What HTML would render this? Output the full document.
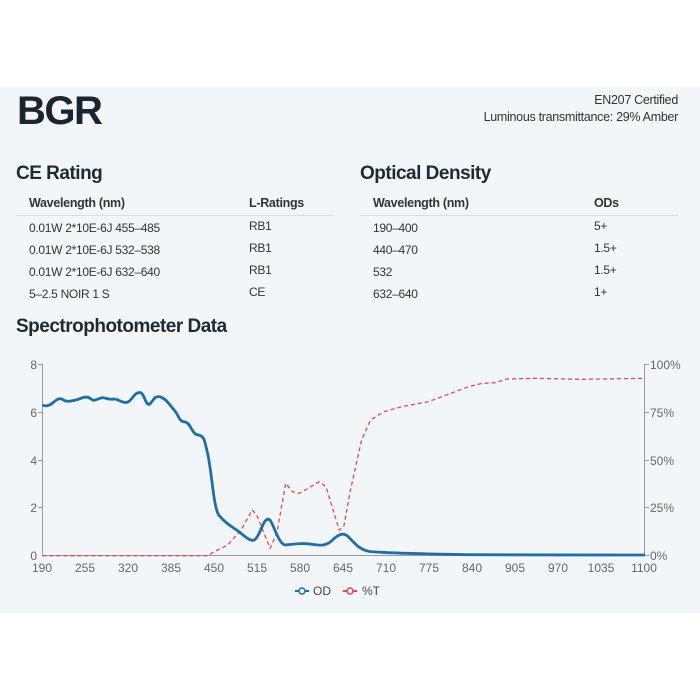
<!DOCTYPE html>
<html><head><meta charset="utf-8"><style>
*{margin:0;padding:0}
body{width:700px;height:700px;background:#fff;position:relative;overflow:hidden;font-family:"Liberation Sans",sans-serif;color:#222}
#panel{position:absolute;left:0;top:87px;width:700px;height:526px;background:#f3f6f9}
.t{position:absolute;white-space:nowrap}
.h2{font-size:19px;font-weight:bold;color:#1e2a33;letter-spacing:-0.5px}
.th{font-size:12.5px;font-weight:bold;color:#333;letter-spacing:-0.3px}
.td{font-size:12px;color:#333;letter-spacing:-0.3px}
.line{position:absolute;height:1px;background:#d8dde2}
</style></head><body>
<div id="panel"></div>
<div class="t" style="left:17px;top:89px;font-size:40px;font-weight:bold;color:#1a2530;letter-spacing:-1.5px">BGR</div>
<div class="t" style="right:22px;top:92px;font-size:12.5px;color:#333;text-align:right;line-height:17px;letter-spacing:-0.3px">EN207 Certified<br>Luminous transmittance: 29% Amber</div>
<div class="t h2" style="left:16px;top:163px">CE Rating</div>
<div class="t h2" style="left:360px;top:163px">Optical Density</div>
<div class="t th" style="left:29px;top:196px">Wavelength (nm)</div>
<div class="t th" style="left:249px;top:196px">L-Ratings</div>
<div class="t th" style="left:373px;top:196px">Wavelength (nm)</div>
<div class="t th" style="left:594px;top:196px">ODs</div>
<div class="line" style="left:16px;top:215px;width:317px"></div>
<div class="line" style="left:360px;top:215px;width:318px"></div>
<div class="t td" style="left:29px;top:221px">0.01W 2*10E-6J 455–485</div>
<div class="t td" style="left:29px;top:243px">0.01W 2*10E-6J 532–538</div>
<div class="t td" style="left:29px;top:265px">0.01W 2*10E-6J 632–640</div>
<div class="t td" style="left:29px;top:287px">5–2.5 NOIR 1 S</div>
<div class="t td" style="left:249px;top:219px">RB1</div>
<div class="t td" style="left:249px;top:241px">RB1</div>
<div class="t td" style="left:249px;top:263px">RB1</div>
<div class="t td" style="left:249px;top:285px">CE</div>
<div class="t td" style="left:373px;top:221px">190–400</div>
<div class="t td" style="left:373px;top:243px">440–470</div>
<div class="t td" style="left:373px;top:265px">532</div>
<div class="t td" style="left:373px;top:287px">632–640</div>
<div class="t td" style="left:594px;top:219px">5+</div>
<div class="t td" style="left:594px;top:241px">1.5+</div>
<div class="t td" style="left:594px;top:263px">1.5+</div>
<div class="t td" style="left:594px;top:285px">1+</div>
<div class="t h2" style="left:16px;top:316px">Spectrophotometer Data</div>
<svg width="700" height="700" style="position:absolute;left:0;top:0" font-family="Liberation Sans, sans-serif">
<g stroke="#999" stroke-width="1" fill="none">
<line x1="42.5" y1="364" x2="42.5" y2="555"/>
<line x1="644.5" y1="364" x2="644.5" y2="555"/>
<line x1="42" y1="555.5" x2="645" y2="555.5"/>
<line x1="38" y1="364.5" x2="42" y2="364.5"/><line x1="38" y1="412.5" x2="42" y2="412.5"/><line x1="38" y1="460.5" x2="42" y2="460.5"/><line x1="38" y1="507.5" x2="42" y2="507.5"/>
<line x1="645" y1="364.5" x2="649" y2="364.5"/><line x1="645" y1="412.5" x2="649" y2="412.5"/><line x1="645" y1="460.5" x2="649" y2="460.5"/><line x1="645" y1="507.5" x2="649" y2="507.5"/><line x1="645" y1="555.5" x2="649" y2="555.5"/>
</g>
<g fill="#666" font-size="12" text-anchor="end">
<text x="37" y="369">8</text><text x="37" y="417">6</text><text x="37" y="465">4</text><text x="37" y="512">2</text><text x="37" y="560">0</text>
</g>
<g fill="#666" font-size="12">
<text x="650" y="369">100%</text><text x="650" y="417">75%</text><text x="650" y="465">50%</text><text x="650" y="512">25%</text><text x="650" y="560">0%</text>
</g>
<g fill="#666" font-size="12" text-anchor="middle">
<text x="42" y="572">190</text><text x="85" y="572">255</text><text x="128" y="572">320</text><text x="171" y="572">385</text><text x="214" y="572">450</text><text x="257" y="572">515</text><text x="300" y="572">580</text><text x="343" y="572">645</text><text x="386" y="572">710</text><text x="429" y="572">775</text><text x="472" y="572">840</text><text x="515" y="572">905</text><text x="558" y="572">970</text><text x="601" y="572">1035</text><text x="644" y="572">1100</text>
</g>
<g transform="translate(0,340) scale(0.44643,0.33333)" fill="none" stroke-linejoin="round">
<polyline vector-effect="non-scaling-stroke" stroke="#e04a4a" stroke-width="1.3" stroke-dasharray="4,3" points="95,647 465,647 480,635 510,615 540,570 565,510 575,525 605,625 620,580 640,430 655,455 670,460 690,445 715,425 730,440 760,570 770,560 785,450 810,300 830,240 860,215 900,200 960,185 1000,165 1050,140 1080,130 1110,128 1135,117 1200,115 1300,118 1445,115"/>
<path vector-effect="non-scaling-stroke" stroke="#1f6fa6" stroke-width="2.8" d="M95,195 C100,198 105,200 115,192 C125,182 130,172 140,178 C150,188 160,183 175,178 C190,170 195,168 205,178 C212,186 218,175 230,173 C240,175 245,180 255,177 C265,176 272,190 285,187 C298,180 300,155 315,158 C325,165 325,195 335,193 C345,180 345,168 358,170 C372,175 380,195 390,210 C402,228 400,245 415,246 C428,250 430,285 445,285 C458,290 458,300 465,340 C475,400 478,500 490,525 C505,550 520,560 535,575 C550,590 560,605 570,600 C585,585 590,525 605,540 C615,560 625,615 640,615 C660,612 680,608 700,613 C715,616 730,620 745,600 C760,580 770,578 780,590 C795,610 805,630 830,635 C880,640 960,642 1050,644 C1200,645 1300,645 1445,645"/>
</g>
<line x1="295" y1="591" x2="309" y2="591" stroke="#1f6fa6" stroke-width="2"/>
<circle cx="302" cy="591" r="3" fill="#f3f6f9" stroke="#1f6fa6" stroke-width="1.5"/>
<text x="313" y="595" font-size="12" fill="#444">OD</text>
<line x1="343" y1="591" x2="357" y2="591" stroke="#e04a4a" stroke-width="2"/>
<circle cx="350" cy="591" r="3" fill="#f3f6f9" stroke="#e04a4a" stroke-width="1.5"/>
<text x="362" y="595" font-size="12" fill="#444">%T</text>
</svg>
</body></html>
